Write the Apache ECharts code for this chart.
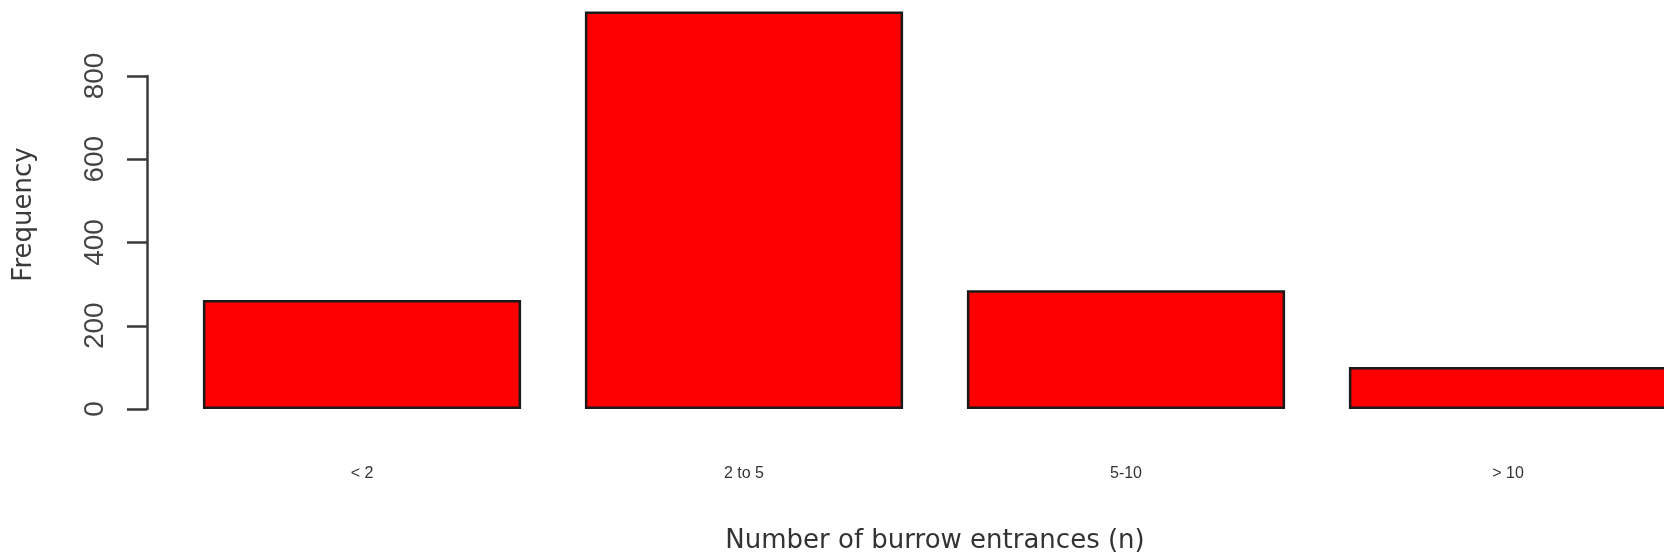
<!DOCTYPE html>
<html>
<head>
<meta charset="utf-8">
<script src="https://cdn.jsdelivr.net/npm/echarts@6/dist/echarts.min.js"></script>
<style>html,body{margin:0;padding:0;background:#fff}#c{width:1664px;height:557px}</style>
</head>
<body>
<div id="c"></div>
<script>
const categories = ['< 2', '2 to 5', '5-10', '> 10'];
const frequency = [262, 955, 285, 101];
const yTicks = [0, 200, 400, 600, 800];

const chart = echarts.init(document.getElementById('c'), null, {renderer: 'canvas'});
chart.setOption({
  animation: false,
  backgroundColor: '#ffffff',
  grid: {left: 171, width: 1528, top: 76, bottom: 148, containLabel: false, outerBoundsMode: 'none'},
  xAxis: {
    type: 'category',
    data: categories,
    axisLine: {show: false},
    axisTick: {show: false},
    axisLabel: {margin: 57, fontSize: 16, color: '#333', fontFamily: 'Liberation Sans'},
    name: 'Number of burrow entrances (n)',
    nameLocation: 'middle',
    nameGap: 119,
    nameTextStyle: {fontSize: 26, color: '#333', fontFamily: 'DejaVu Sans'}
  },
  yAxis: {
    type: 'value',
    min: yTicks[0],
    max: yTicks[yTicks.length - 1],
    interval: 200,
    offset: 24,
    splitLine: {show: false},
    axisLine: {show: true, lineStyle: {color: '#3a3a3a', width: 2.5}},
    axisTick: {show: true, length: 20, lineStyle: {color: '#3a3a3a', width: 2.5}},
    axisLabel: {rotate: 90, margin: 38, fontSize: 28, color: '#444', fontFamily: 'Liberation Sans'},
    name: 'Frequency',
    nameLocation: 'middle',
    nameRotate: 90,
    nameGap: 110,
    nameTextStyle: {fontSize: 26, color: '#3a3a3a', fontFamily: 'DejaVu Sans', fontWeight: 500, padding: [0, 0, 0, 56]}
  },
  series: [{
    type: 'bar',
    data: frequency,
    clip: false,
    barCategoryGap: '16.7%',
    itemStyle: {color: '#ff0000', borderColor: '#1a1a1a', borderWidth: 2.5}
  }]
});
</script>
</body>
</html>
